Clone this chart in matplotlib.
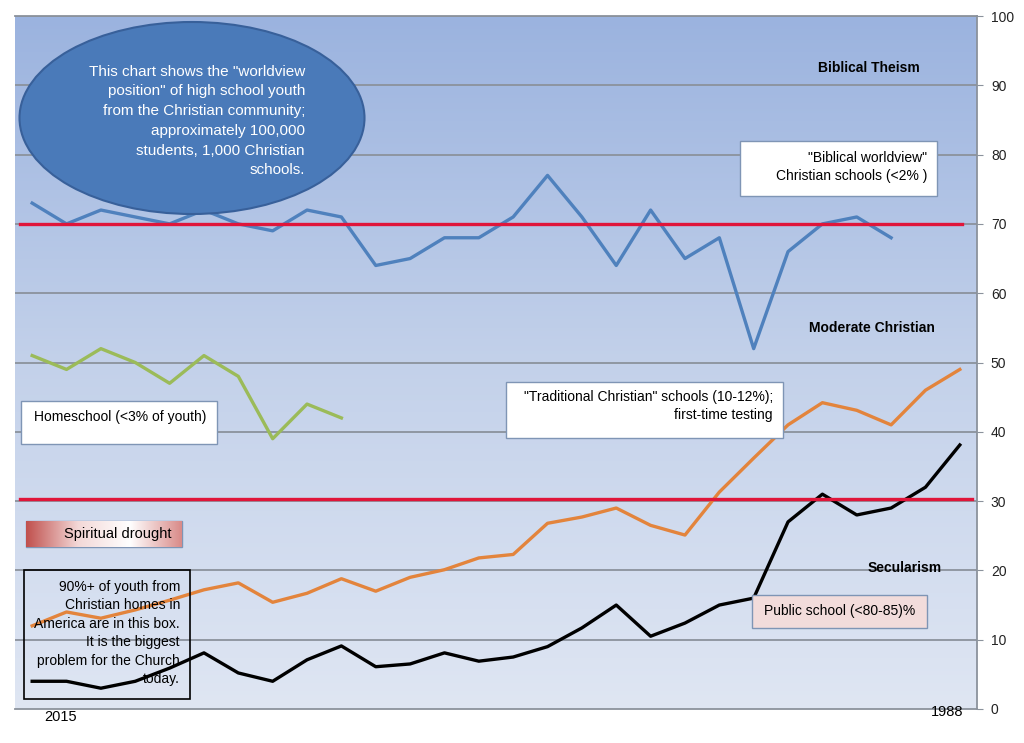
import numpy as np
import matplotlib
matplotlib.use('Agg')
import matplotlib.pyplot as plt
from matplotlib.patches import Ellipse, Rectangle
from matplotlib.colors import LinearSegmentedColormap

plt.rcParams['font.family'] = ['Liberation Sans', 'DejaVu Sans']

# years run from 2015 (left) back to 1988 (right)
years = list(range(2015, 1987, -1))

biblical = [73, 70, 72, 71, 70, 72, 70, 69, 72, 71, 64, 65, 68, 68, 71, 77,
            71, 64, 72, 65, 68, 52, 66, 70, 71, 68]
homeschool = [51, 49, 52, 50, 47, 51, 48, 39, 44, 42]
traditional = [12.0, 14.0, 13.1, 14.3, 15.7, 17.2, 18.2, 15.4, 16.7, 18.8, 17.0,
               19.0, 20.1, 21.8, 22.3, 26.8, 27.7, 29.0, 26.5, 25.1, 31.3, 36.2,
               41.0, 44.2, 43.1, 41.0, 46.0, 49.0]
public = [4.0, 4.0, 3.0, 4.0, 5.9, 8.1, 5.2, 4.0, 7.1, 9.1, 6.1, 6.5, 8.1, 6.9,
          7.5, 9.0, 11.7, 15.0, 10.5, 12.4, 15.0, 16.0, 27.0, 31.0, 28.0, 29.0,
          32.0, 38.1]
red_levels = [70.0, 30.3]
yticks = list(range(0, 101, 10))

W, H = 1024, 743
fig = plt.figure(figsize=(W / 100, H / 100), dpi=100)
ax = fig.add_axes([15 / W, 1 - 709 / H, 962 / W, 693 / H])
ax.set_zorder(1)

# gradient background
bg = LinearSegmentedColormap.from_list('bg', ['#dfe6f3', '#c3d1ea', '#9bb3df'])
grad = np.linspace(0, 1, 256).reshape(-1, 1)
ax.imshow(grad, cmap=bg, aspect='auto', origin='lower',
          extent=[2015.5, 1987.5, 0, 100], zorder=0)

ax.set_xlim(2015.5, 1987.5)
ax.set_ylim(0, 100)
for v in yticks[1:]:
    ax.axhline(v, color='#8b929c', lw=1.3, zorder=1)

ax.plot(years[:len(biblical)], biblical, color='#4f81bd', lw=2.4, zorder=3)
ax.plot(years[:len(homeschool)], homeschool, color='#9bbb59', lw=2.4, zorder=3)
ax.plot(years, traditional, color='#e3843c', lw=2.4, zorder=3)
ax.plot(years, public, color='black', lw=2.4, zorder=3)
ax.axhline(red_levels[0], xmin=0.005, xmax=0.984, color='#e0153a', lw=2.4, zorder=4)
ax.axhline(red_levels[1], xmin=0.005, xmax=0.995, color='#e0153a', lw=2.4, zorder=4)

ax.yaxis.tick_right()
ax.set_yticks(yticks)
ax.set_xticks([])
ax.tick_params(axis='y', length=4, color='#8b929c', pad=6, labelsize=10,
               labelcolor='#222222')
ax.spines['left'].set_visible(False)
for s in ['right', 'bottom', 'top']:
    ax.spines[s].set_color('#8b929c')
    ax.spines[s].set_linewidth(1.3)

# overlay in pixel coordinates for the annotation boxes
ov = fig.add_axes([0, 0, 1, 1])
ov.set_zorder(5)
ov.set_xlim(0, W)
ov.set_ylim(H, 0)
ov.axis('off')
ov.patch.set_visible(False)

ov.add_patch(Ellipse((192, 118), 345, 192, facecolor='#4a7ab9',
                     edgecolor='#38609a', lw=1.5))
ov.text(305, 121, 'This chart shows the "worldview\nposition" of high school youth\n'
        'from the Christian community;\napproximately 100,000\n'
        'students, 1,000 Christian\nschools.',
        ha='right', va='center', multialignment='right', color='white',
        fontsize=11, linespacing=1.52)

def box(x0, y0, x1, y1, face='white', edge='#7f95b5', lw=1.0):
    ov.add_patch(Rectangle((x0, y0), x1 - x0, y1 - y0, facecolor=face,
                           edgecolor=edge, lw=lw))

box(740, 141, 937, 196)
ov.text(927, 167, '"Biblical worldview"\nChristian schools (<2% )', ha='right',
        va='center', multialignment='right', fontsize=10, linespacing=1.45)

box(21, 401, 217, 444)
ov.text(206, 417, 'Homeschool (<3% of youth)', ha='right', va='center', fontsize=10)

box(506, 382, 783, 438)
ov.text(773, 406, '"Traditional Christian" schools (10-12%);\nfirst-time testing',
        ha='right', va='center', multialignment='right', fontsize=10,
        linespacing=1.35)

# spiritual drought gradient box
sd = LinearSegmentedColormap.from_list('sd', ['#c0504d', '#f3d8d7', '#ffffff', '#d98b89'])
ov.imshow(np.linspace(0, 1, 256).reshape(1, -1), cmap=sd, aspect='auto',
          extent=[26, 182, 547, 521], zorder=2)
box(26, 521, 182, 547, face='none', edge='#7f95b5')
ov.text(171, 534, 'Spiritual drought', ha='right', va='center', fontsize=10.5, zorder=3)

box(24, 570, 190, 699, face='none', edge='black', lw=1.2)
ov.text(180, 633, '90%+ of youth from\nChristian homes in\nAmerica are in this box.\n'
        'It is the biggest\nproblem for the Church\ntoday.',
        ha='right', va='center', multialignment='right', fontsize=10,
        linespacing=1.4)

box(752, 595, 927, 628, face='#f2dcdb', edge='#7f95b5')
ov.text(915, 611, 'Public school (<80-85)%', ha='right', va='center', fontsize=10)

ov.text(920, 68, 'Biblical Theism', ha='right', va='center', fontsize=10,
        fontweight='bold')
ov.text(935, 328, 'Moderate Christian', ha='right', va='center', fontsize=10,
        fontweight='bold')
ov.text(942, 568, 'Secularism', ha='right', va='center', fontsize=10,
        fontweight='bold')

ov.text(61, 717, '2015', ha='center', va='center', fontsize=10.5)
ov.text(947, 712, '1988', ha='center', va='center', fontsize=10.5)

fig.savefig('out.png', dpi=100, facecolor='white')
